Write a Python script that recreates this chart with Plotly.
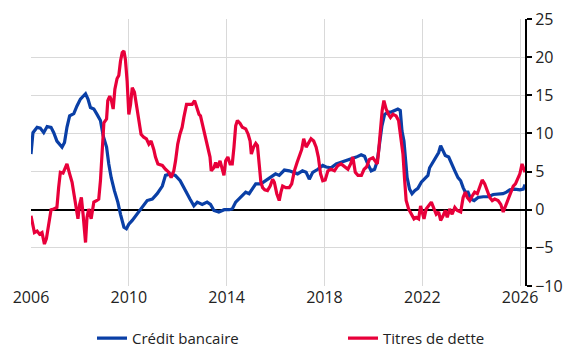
import plotly.graph_objects as go

# Crédit bancaire (decimal years, % growth)
credit_x = [2006.0, 2006.08, 2006.25, 2006.38, 2006.52, 2006.66, 2006.82, 2006.93, 2007.06, 2007.17,
            2007.27, 2007.37, 2007.47, 2007.58, 2007.75, 2007.88, 2008.02, 2008.23, 2008.33, 2008.43,
            2008.57, 2008.7, 2008.84, 2008.95, 2009.09, 2009.18, 2009.28, 2009.41, 2009.55, 2009.66,
            2009.8, 2009.9, 2010.0, 2010.14, 2010.34, 2010.55, 2010.75, 2010.96, 2011.16, 2011.37,
            2011.5, 2011.7, 2011.9, 2012.1, 2012.3, 2012.5, 2012.66, 2012.8, 2013.0, 2013.2,
            2013.34, 2013.48, 2013.68, 2013.9, 2014.1, 2014.23, 2014.37, 2014.58, 2014.78, 2014.92,
            2015.05, 2015.19, 2015.4, 2015.6, 2015.8, 2016.0, 2016.15, 2016.36, 2016.56, 2016.77,
            2016.9, 2017.1, 2017.25, 2017.38, 2017.52, 2017.73, 2017.93, 2018.07, 2018.27, 2018.48,
            2018.68, 2018.89, 2019.1, 2019.3, 2019.5, 2019.64, 2019.77, 2019.91, 2020.05, 2020.16,
            2020.25, 2020.35, 2020.46, 2020.6, 2020.73, 2020.87, 2021.0, 2021.1, 2021.17, 2021.25,
            2021.3, 2021.38, 2021.48, 2021.58, 2021.69, 2021.82, 2021.96, 2022.1, 2022.23, 2022.3,
            2022.44, 2022.57, 2022.67, 2022.75, 2022.85, 2022.94, 2023.08, 2023.19, 2023.33, 2023.46,
            2023.57, 2023.67, 2023.76, 2023.87, 2023.98, 2024.12, 2024.28, 2024.49, 2024.69, 2024.9,
            2025.1, 2025.3, 2025.44, 2025.58, 2025.78, 2025.99, 2026.13, 2026.2]
credit_y = [7.3, 10.1, 10.8, 10.7, 10.1, 10.9, 10.8, 10.1, 9.0, 8.6,
            8.2, 8.8, 10.8, 12.3, 12.6, 13.6, 14.5, 15.2, 14.5, 13.4,
            13.2, 12.5, 11.7, 9.7, 8.2, 6.0, 4.2, 2.5, 1.0, -0.6,
            -2.3, -2.5, -1.9, -1.4, -0.6, 0.3, 1.2, 1.4, 2.1, 3.1,
            4.5, 4.7, 4.5, 3.8, 2.5, 1.4, 0.5, 1.0, 0.7, 1.0,
            0.7, -0.1, -0.3, 0.0, 0.0, 0.1, 1.0, 1.6, 2.3, 2.1,
            2.7, 3.4, 3.4, 3.8, 4.2, 4.7, 4.5, 5.2, 5.1, 4.9,
            4.7, 5.1, 4.9, 4.0, 4.9, 5.3, 5.8, 5.6, 5.5, 6.0,
            6.2, 6.4, 6.6, 6.9, 7.2, 7.0, 6.0, 5.1, 5.3, 6.4,
            8.6, 11.0, 12.5, 12.8, 12.8, 13.0, 13.2, 13.0, 10.3, 9.0,
            6.9, 4.2, 2.7, 2.1, 2.5, 2.8, 3.6, 4.0, 4.5, 5.5,
            6.2, 6.9, 7.5, 8.4, 7.7, 7.1, 6.9, 6.0, 5.1, 4.2,
            3.8, 2.9, 2.3, 2.3, 1.4, 1.2, 1.6, 1.7, 1.7, 2.0,
            2.1, 2.1, 2.3, 2.6, 2.7, 2.6, 2.7, 3.3]

# Titres de dette
debt_x = [2006.0, 2006.08, 2006.14, 2006.25, 2006.35, 2006.45, 2006.55, 2006.63, 2006.72, 2006.82,
          2006.93, 2007.06, 2007.13, 2007.2, 2007.31, 2007.4, 2007.47, 2007.58, 2007.68, 2007.77,
          2007.86, 2007.92, 2007.99, 2008.06, 2008.13, 2008.23, 2008.29, 2008.36, 2008.46, 2008.57,
          2008.68, 2008.77, 2008.84, 2008.91, 2008.98, 2009.09, 2009.14, 2009.22, 2009.29, 2009.36,
          2009.43, 2009.52, 2009.59, 2009.66, 2009.73, 2009.8, 2009.86, 2009.93, 2010.0, 2010.07,
          2010.14, 2010.23, 2010.31, 2010.41, 2010.5, 2010.61, 2010.72, 2010.82, 2010.91, 2011.02,
          2011.09, 2011.19, 2011.37, 2011.5, 2011.64, 2011.73, 2011.84, 2011.91, 2012.0, 2012.09,
          2012.18, 2012.25, 2012.36, 2012.5, 2012.59, 2012.69, 2012.77, 2012.87, 2012.93, 2013.04,
          2013.14, 2013.23, 2013.32, 2013.37, 2013.48, 2013.55, 2013.62, 2013.73, 2013.82, 2013.89,
          2013.96, 2014.05, 2014.14, 2014.23, 2014.3, 2014.37, 2014.44, 2014.55, 2014.64, 2014.78,
          2014.88, 2014.96, 2015.01, 2015.1, 2015.19, 2015.26, 2015.33, 2015.4, 2015.47, 2015.56,
          2015.67, 2015.78, 2015.88, 2015.95, 2016.05, 2016.15, 2016.22, 2016.29, 2016.42, 2016.56,
          2016.66, 2016.77, 2016.88, 2016.97, 2017.07, 2017.15, 2017.25, 2017.34, 2017.45, 2017.56,
          2017.66, 2017.75, 2017.84, 2017.93, 2018.03, 2018.14, 2018.27, 2018.41, 2018.55, 2018.68,
          2018.82, 2018.96, 2019.07, 2019.16, 2019.26, 2019.37, 2019.51, 2019.62, 2019.72, 2019.84,
          2019.98, 2020.07, 2020.16, 2020.21, 2020.29, 2020.36, 2020.43, 2020.52, 2020.62, 2020.7,
          2020.8, 2020.93, 2021.03, 2021.11, 2021.21, 2021.28, 2021.34, 2021.44, 2021.55, 2021.66,
          2021.75, 2021.85, 2021.93, 2022.0, 2022.07, 2022.16, 2022.26, 2022.37, 2022.48, 2022.57,
          2022.67, 2022.75, 2022.85, 2022.94, 2023.02, 2023.12, 2023.22, 2023.33, 2023.43, 2023.57,
          2023.67, 2023.76, 2023.84, 2023.94, 2024.04, 2024.14, 2024.25, 2024.35, 2024.45, 2024.55,
          2024.66, 2024.76, 2024.86, 2024.96, 2025.1, 2025.21, 2025.31, 2025.4, 2025.51, 2025.62,
          2025.72, 2025.81, 2025.89, 2025.99, 2026.08, 2026.15, 2026.2]
debt_y = [-0.8, -1.9, -3.0, -2.8, -3.2, -3.0, -4.5, -3.8, -1.9, 0.0,
          0.1, 0.3, 2.9, 4.9, 4.8, 5.5, 6.0, 4.7, 3.6, 1.8,
          0.3, -1.2, 0.7, 1.6, -0.6, -4.3, -1.0, 0.1, -1.2, 1.0,
          1.2, 1.4, 3.8, 8.2, 11.4, 11.9, 14.3, 14.9, 14.3, 13.2,
          15.8, 17.2, 17.6, 19.5, 20.6, 20.8, 19.7, 16.9, 12.5, 13.8,
          16.0, 15.4, 13.8, 11.4, 9.9, 9.5, 9.3, 8.6, 9.0, 7.9,
          6.9, 6.0, 5.8, 5.3, 4.9, 4.2, 5.1, 6.4, 8.6, 9.9,
          10.8, 12.1, 13.8, 13.8, 13.8, 14.3, 13.4, 12.5, 12.3, 10.8,
          9.5, 8.2, 6.9, 5.1, 5.5, 6.2, 5.5, 6.4, 5.1, 4.5,
          6.4, 6.9, 6.0, 6.0, 8.2, 11.0, 11.7, 11.3, 10.8, 10.6,
          9.9, 9.0, 7.3, 8.2, 8.7, 8.4, 6.0, 3.6, 2.9, 2.6,
          2.5, 3.1, 4.0, 3.6, 2.1, 1.2, 2.3, 3.1, 2.9, 2.9,
          3.4, 5.1, 6.2, 6.9, 7.9, 9.3, 8.2, 8.7, 9.3, 9.0,
          8.2, 6.9, 4.7, 3.8, 3.9, 5.1, 5.3, 5.1, 5.8, 6.0,
          5.6, 5.3, 6.0, 6.9, 4.9, 4.5, 4.5, 5.3, 5.6, 6.6,
          6.8, 6.4, 6.0, 7.5, 10.8, 13.0, 14.3, 13.2, 12.5, 12.1,
          12.5, 12.3, 11.7, 9.9, 7.3, 3.8, 1.2, 0.1, -0.6, -1.2,
          -1.0, -1.2, 0.5, -0.6, -1.2, 0.1, 0.5, 1.0, 0.1, -0.6,
          -0.3, -1.4, -0.8, -0.1, -1.0, 0.1, -0.6, 0.3, -0.1, -0.3,
          1.6, 2.3, 1.6, 1.2, 1.8, 2.3, 2.1, 3.1, 3.9, 3.4,
          2.5, 1.6, 1.2, 1.4, 1.2, 0.7, -0.3, 0.5, 1.4, 2.3,
          3.1, 3.4, 4.0, 4.7, 6.0, 5.5, 4.9]

x_ticks = [2006, 2010, 2014, 2018, 2022, 2026]
y_ticks = [-10, -5, 0, 5, 10, 15, 20, 25]

BLUE = "#0A3FA6"
RED = "#E8003A"
FONT = "Open Sans"
TXT = "#222222"

fig = go.Figure()
fig.add_trace(go.Scatter(x=credit_x, y=credit_y, mode="lines", name="Crédit bancaire",
                         line=dict(color=BLUE, width=3.2), legend="legend"))
fig.add_trace(go.Scatter(x=debt_x, y=debt_y, mode="lines", name="Titres de dette",
                         line=dict(color=RED, width=3.2), legend="legend2"))

leg_common = dict(orientation="h", xref="container", yref="container",
                  xanchor="left", yanchor="middle", y=0.025,
                  font=dict(family=FONT, size=15, color=TXT),
                  bgcolor="rgba(0,0,0,0)", borderwidth=0)

fig.update_layout(
    width=568, height=347,
    margin=dict(l=31, r=43, t=19, b=61, autoexpand=False),
    paper_bgcolor="white", plot_bgcolor="white",
    font=dict(family=FONT, size=15, color=TXT),
    showlegend=True,
    legend=dict(x=92 / 568, **leg_common),
    legend2=dict(x=343 / 568, **leg_common),
    xaxis=dict(range=[2006, 2026.2], tickmode="array", tickvals=x_ticks,
               ticktext=[str(t) for t in x_ticks],
               showgrid=True, gridcolor="#D9D9D9", gridwidth=1,
               showline=False, zeroline=False, ticks="", automargin=False,
               tickfont=dict(family=FONT, size=16, color=TXT)),
    yaxis=dict(range=[-10, 25], tickmode="array", tickvals=y_ticks, side="right",
               showgrid=True, gridcolor="#D9D9D9", gridwidth=1,
               zeroline=True, zerolinecolor="black", zerolinewidth=2,
               showline=True, linecolor="black", linewidth=2, automargin=False,
               ticks="outside", ticklen=5, tickcolor="black", tickwidth=2,
               tickfont=dict(family=FONT, size=16, color=TXT)),
)

fig.write_html("out.html", config={"displayModeBar": False},
               post_script="document.body.style.margin='0';")
